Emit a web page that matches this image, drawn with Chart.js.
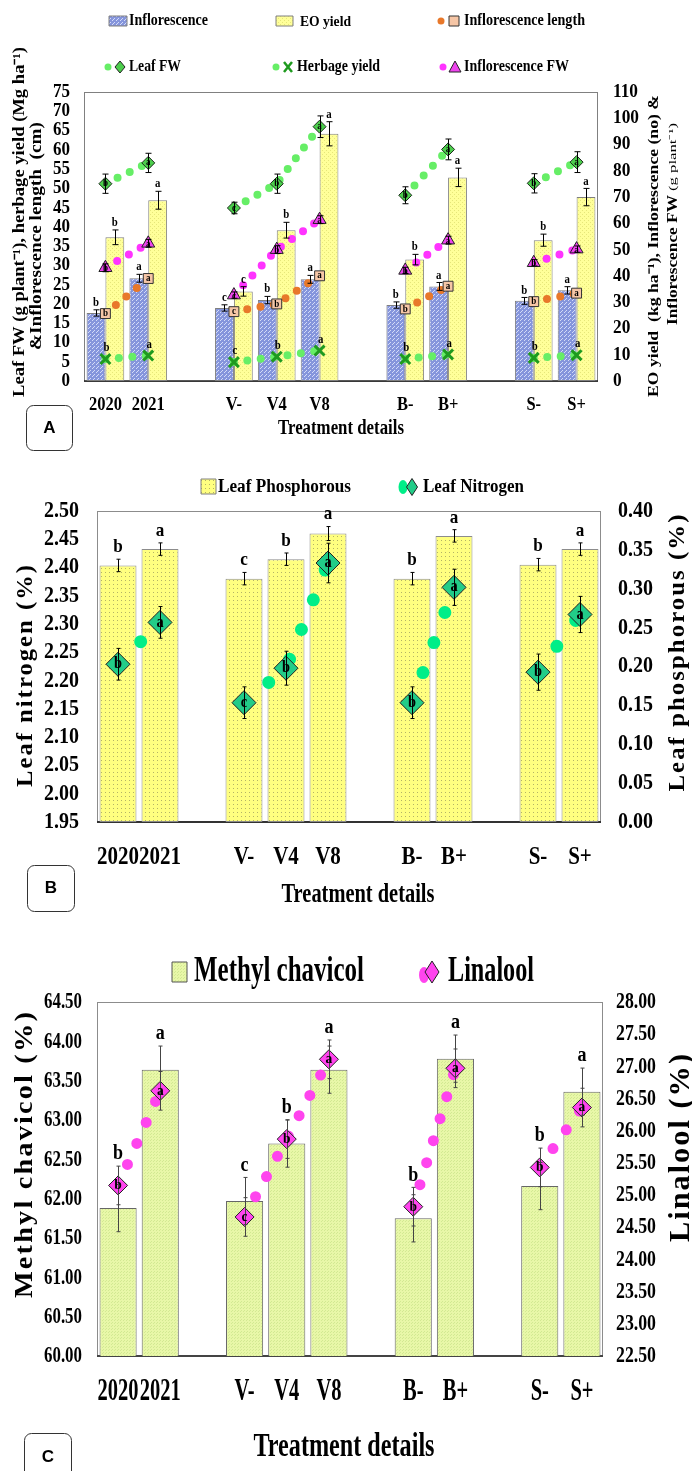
<!DOCTYPE html>
<html>
<head>
<meta charset="utf-8">
<title>Treatment details</title>
<script src="https://cdn.jsdelivr.net/npm/chart.js"></script>
<style>
  body { margin: 0; background: #fff; }
  #wrap { position: relative; width: 692px; height: 1471px; overflow: hidden; }
  canvas { position: absolute; left: 0; }
</style>
</head>
<body>
<div id="wrap">
  <canvas id="chartA" width="692" height="455" style="top:0px"></canvas>
  <canvas id="chartB" width="692" height="460" style="top:455px"></canvas>
  <canvas id="chartC" width="692" height="556" style="top:915px"></canvas>
</div>
<script>
// categories ('' = gap between treatment groups)
var categories = ['2020', '2021', '', 'V-', 'V4', 'V8', '', 'B-', 'B+', '', 'S-', 'S+'];
var letters = ['b', 'a', '', 'c', 'b', 'a', '', 'b', 'a', '', 'b', 'a'];

// panel A
var inflorescenceNo = [25.9, 39.1, null, 27.8, 30.8, 38.7, null, 28.9, 36.0, null, 30.5, 34.5];
var inflorescenceNoErr = [1.2, 1.5, null, 1.2, 1.4, 1.5, null, 1.2, 1.5, null, 1.3, 1.4];
var eoYield = [54.7, 68.8, null, 34.1, 57.4, 94.1, null, 46.2, 77.5, null, 53.6, 70.0];
var eoYieldErr = [2.8, 3.4, null, 1.8, 3.0, 4.6, null, 2.0, 3.5, null, 2.3, 3.3];
var inflorescenceLength = [17.5, 26.6, null, 18.0, 20.0, 27.3, null, 18.7, 24.6, null, 20.6, 22.8];
var leafFW = [51.2, 56.6, null, 44.9, 51.2, 66.0, null, 48.2, 60.1, null, 51.3, 56.8];
var leafFWErr = [2.5, 2.5, null, 1.5, 2.5, 2.8, null, 2.2, 2.7, null, 2.5, 2.7];
var herbageYield = [5.7, 6.6, null, 4.9, 6.3, 7.9, null, 5.7, 6.9, null, 6.0, 6.7];
var inflorescenceFW = [43.1, 52.4, null, 32.7, 50.0, 61.4, null, 42.1, 53.6, null, 45.0, 50.2];
var inflorescenceFWErr = [1.5, 1.5, null, 1.2, 1.5, 1.5, null, 1.2, 1.5, null, 1.2, 1.2];

// panel B
var leafPhosphorus = [0.330, 0.351, null, 0.313, 0.338, 0.371, null, 0.313, 0.368, null, 0.331, 0.351];
var leafPhosphorusErr = [0.008, 0.008, null, 0.008, 0.008, 0.009, null, 0.008, 0.008, null, 0.008, 0.008];
var leafNitrogen = [2.229, 2.303, null, 2.161, 2.222, 2.408, null, 2.161, 2.365, null, 2.215, 2.317];
var leafNitrogenErr = [0.028, 0.028, null, 0.028, 0.03, 0.035, null, 0.028, 0.032, null, 0.032, 0.032];

// panel C
var methylChavicol = [61.88, 63.64, null, 61.97, 62.70, 63.64, null, 61.75, 63.78, null, 62.16, 63.36];
var methylChavicolErr = [0.3, 0.3, null, 0.3, 0.3, 0.3, null, 0.3, 0.3, null, 0.3, 0.3];
var linalool = [25.15, 26.62, null, 24.66, 25.87, 27.11, null, 24.82, 26.97, null, 25.43, 26.36];
var linaloolErr = [0.3, 0.3, null, 0.3, 0.3, 0.3, null, 0.3, 0.3, null, 0.3, 0.3];

var FONT = '"Liberation Serif", "Times New Roman", serif';
var SANS = '"Liberation Sans", Arial, sans-serif';

function txt(ctx, s, x, y, o) {
  ctx.save();
  ctx.font = (o.weight || 'bold') + ' ' + o.size + 'px ' + (o.family || FONT);
  if (o.ls) ctx.letterSpacing = o.ls + 'px';
  var sx = o.sx || 1;
  if (o.w) sx = o.w / ctx.measureText(s).width;
  ctx.translate(x, y);
  if (o.rot) ctx.rotate(o.rot);
  ctx.scale(sx, 1);
  ctx.fillStyle = o.color || '#000';
  ctx.textAlign = o.align || 'center';
  ctx.textBaseline = 'middle';
  ctx.fillText(s, 0, 0);
  ctx.restore();
}

function sxFor(ctx, s, size, w) {
  ctx.save();
  ctx.font = 'bold ' + size + 'px ' + FONT;
  var r = w / ctx.measureText(s).width;
  ctx.restore();
  return r;
}

function pattern(bg, fg, step, pts) {
  var c = document.createElement('canvas');
  c.width = c.height = step;
  var g = c.getContext('2d');
  g.fillStyle = bg;
  g.fillRect(0, 0, step, step);
  g.fillStyle = fg;
  pts.forEach(function(p) { g.fillRect(p[0], p[1], 1, 1); });
  return g.createPattern(c, 'repeat');
}

var bluePat = pattern('#8595dc', '#d4dbf8', 4, [[0, 0], [2, 2], [1, 3]]);
var yellowPatA = pattern('#ffff99', '#e6e67a', 4, [[0, 0], [2, 2]]);
var yellowPatB = pattern('#ffff80', '#b3b366', 4, [[1, 1]]);
var greenPatC = pattern('#e8f7a8', '#d2e992', 3, [[0, 0], [1, 2]]);

function poly(ctx, pts, fill, stroke, lw) {
  ctx.save();
  ctx.beginPath();
  pts.forEach(function(p, i) { if (i) ctx.lineTo(p[0], p[1]); else ctx.moveTo(p[0], p[1]); });
  ctx.closePath();
  if (fill) { ctx.fillStyle = fill; ctx.fill(); }
  if (stroke) { ctx.strokeStyle = stroke; ctx.lineWidth = lw || 1; ctx.stroke(); }
  ctx.restore();
}
function dot(ctx, x, y, rx, ry, color) {
  ctx.save();
  ctx.fillStyle = color;
  ctx.beginPath();
  ctx.ellipse(x, y, rx, ry, 0, 0, Math.PI * 2);
  ctx.fill();
  ctx.restore();
}
function diamond(ctx, x, y, hw, hh, fill, stroke) {
  poly(ctx, [[x, y - hh], [x + hw, y], [x, y + hh], [x - hw, y]], fill, stroke);
}
function box(ctx, x, y, w, h, fill, stroke) {
  poly(ctx, [[x, y], [x + w, y], [x + w, y + h], [x, y + h]], fill, stroke);
}
function roundBox(ctx, x, y, w, h, r) {
  ctx.save();
  ctx.strokeStyle = '#333';
  ctx.lineWidth = 1;
  ctx.beginPath();
  ctx.roundRect(x, y, w, h, r);
  ctx.stroke();
  ctx.restore();
}

function frame(chart, side, bottom, bw) {
  var a = chart.chartArea, ctx = chart.ctx;
  ctx.save();
  ctx.strokeStyle = side;
  ctx.lineWidth = 1;
  ctx.strokeRect(a.left + 0.5, a.top + 0.5, a.right - a.left - 1, a.bottom - a.top);
  ctx.strokeStyle = bottom;
  ctx.lineWidth = bw;
  ctx.beginPath();
  ctx.moveTo(a.left, a.bottom);
  ctx.lineTo(a.right, a.bottom);
  ctx.stroke();
  ctx.restore();
}

function errBars(chart, di, errs, color, cap) {
  var ctx = chart.ctx, meta = chart.getDatasetMeta(di), ds = chart.data.datasets[di];
  var sc = chart.scales[ds.yAxisID];
  ctx.save();
  ctx.strokeStyle = color;
  ctx.lineWidth = 1;
  meta.data.forEach(function(el, j) {
    var v = ds.data[j], e = errs[j];
    if (v == null || e == null) return;
    var x = Math.round(el.x) + 0.5, y1 = sc.getPixelForValue(v + e), y2 = sc.getPixelForValue(v - e);
    ctx.beginPath();
    ctx.moveTo(x, y1); ctx.lineTo(x, y2);
    ctx.moveTo(x - cap, y1); ctx.lineTo(x + cap, y1);
    ctx.moveTo(x - cap, y2); ctx.lineTo(x + cap, y2);
    ctx.stroke();
  });
  ctx.restore();
}

// significance letters: centred on the marker, or above the error bar
function marks(chart, di, errs, size, dy, dx) {
  var meta = chart.getDatasetMeta(di), ds = chart.data.datasets[di];
  var sc = chart.scales[ds.yAxisID];
  meta.data.forEach(function(el, j) {
    var v = ds.data[j];
    if (v == null || !letters[j]) return;
    var top = sc.getPixelForValue(v + (errs ? errs[j] : 0));
    txt(chart.ctx, letters[j], el.x + (dx || 0), top + dy, { size: size, sx: 0.9 });
  });
}

function yTicks(chart, id, x, align, size, sx, dec) {
  var sc = chart.scales[id];
  sc.ticks.forEach(function(t) {
    txt(chart.ctx, t.value.toFixed(dec), x, sc.getPixelForValue(t.value), { size: size, sx: sx, align: align });
  });
}
function xTicks(chart, y, size, sx) {
  var sc = chart.scales.x;
  categories.forEach(function(l, i) {
    if (l) txt(chart.ctx, l, sc.getPixelForValue(i), y, { size: size, sx: sx });
  });
}

function fixed(w) { return function(s) { s.width = w; }; }
function fixedH(h) { return function(s) { s.height = h; }; }

function baseOptions(pad, xh, lw, rw, left, right) {
  return {
    responsive: false,
    animation: false,
    events: [],
    layout: { padding: { top: pad, left: 0, right: 0, bottom: 0 } },
    plugins: { legend: { display: false }, tooltip: { enabled: false } },
    scales: {
      x: { grid: { display: false }, border: { display: false }, ticks: { display: false }, afterFit: fixedH(xh) },
      yL: Object.assign({ position: 'left', grid: { display: false }, border: { display: false }, afterFit: fixed(lw) }, left),
      yR: Object.assign({ position: 'right', grid: { display: false }, border: { display: false }, afterFit: fixed(rw) }, right)
    }
  };
}

var UP = -Math.PI / 2;

// ---------------- Panel A ----------------
var decorA = {
  id: 'decorA',
  beforeDatasetsDraw: function(chart) { frame(chart, '#808080', '#222', 1.5); },
  afterDatasetsDraw: function(chart) {
    errBars(chart, 5, eoYieldErr, '#000', 3);
    errBars(chart, 4, inflorescenceNoErr, '#000', 3);
    errBars(chart, 0, leafFWErr, '#000', 3);
    errBars(chart, 3, inflorescenceFWErr, '#000', 3);
    marks(chart, 5, eoYieldErr, 12, -7);
    marks(chart, 4, inflorescenceNoErr, 12, -7);
    marks(chart, 0, null, 10, 0);
    marks(chart, 3, null, 10, 1);
    marks(chart, 2, null, 10, 0);
    marks(chart, 1, null, 12, -11, 1);
  },
  afterDraw: function(chart) {
    var ctx = chart.ctx;
    yTicks(chart, 'yL', 70, 'right', 19, sxFor(ctx, '75', 19, 17), 0);
    yTicks(chart, 'yR', 613, 'left', 19, sxFor(ctx, '110', 19, 25), 0);
    xTicks(chart, 405, 18, sxFor(ctx, '2020', 18, 33));
    txt(ctx, 'Treatment details', 341, 429, { size: 21, w: 126 });
    txt(ctx, 'Leaf FW (g plant\u207B\u00B9), herbage yield (Mg ha\u207B\u00B9)', 20, 222, { size: 16, w: 350, rot: UP });
    txt(ctx, '&Inflorescence length  (cm)', 37, 236, { size: 16, w: 228, rot: UP });
    txt(ctx, 'EO yield  (kg ha\u207B\u00B9), Inflorescence (no) &', 654, 246, { size: 15, w: 302, rot: UP });
    txt(ctx, 'Inflorescence FW', 673, 260, { size: 15, w: 130, rot: UP });
    txt(ctx, '(g plant\u207B\u00B9)', 673, 157, { size: 11, w: 68, weight: 'normal', rot: UP });
    // legend
    box(ctx, 109, 16, 18, 10, bluePat, '#808080');
    txt(ctx, 'Inflorescence', 129, 21, { size: 16, w: 79, align: 'left' });
    box(ctx, 276, 16, 17, 10, yellowPatA, '#808080');
    txt(ctx, 'EO yield', 300, 22, { size: 14, w: 51, align: 'left' });
    dot(ctx, 441, 21, 3.5, 3.5, '#e8782a');
    box(ctx, 449, 16, 10, 10, '#f6c6a6', '#333');
    txt(ctx, 'Inflorescence length', 464, 21, { size: 16, w: 121, align: 'left' });
    dot(ctx, 108, 67, 3.5, 3.5, '#66ee66');
    diamond(ctx, 120, 67, 5, 6, '#4ccd4c', '#222');
    txt(ctx, 'Leaf FW', 129, 67, { size: 16, w: 52, align: 'left' });
    dot(ctx, 276, 67, 3.5, 3.5, '#66ee66');
    ctx.save();
    ctx.strokeStyle = '#1f9a1f'; ctx.lineWidth = 2.5;
    ctx.beginPath(); ctx.moveTo(284, 62); ctx.lineTo(292, 72); ctx.moveTo(292, 62); ctx.lineTo(284, 72); ctx.stroke();
    ctx.restore();
    txt(ctx, 'Herbage yield', 297, 67, { size: 16, w: 83, align: 'left' });
    dot(ctx, 443, 67, 3.5, 3.5, '#ff33ff');
    poly(ctx, [[455, 61], [461, 72], [449, 72]], '#ee44ee', '#222');
    txt(ctx, 'Inflorescence FW', 464, 67, { size: 16, w: 105, align: 'left' });
    roundBox(ctx, 26.5, 405.5, 46, 45, 7);
    txt(ctx, 'A', 49.5, 428, { size: 17, family: SANS });
  }
};

new Chart(document.getElementById('chartA'), {
  type: 'bar',
  data: {
    labels: categories,
    datasets: [
      { type: 'line', label: 'Leaf FW', data: leafFW, yAxisID: 'yL', order: 0,
        borderColor: '#66ee66', borderWidth: 8, borderDash: [0, 13.5], borderCapStyle: 'round',
        pointStyle: 'rectRot', pointRadius: 6.5, pointBackgroundColor: '#4ccd4c', pointBorderColor: '#1a2a1a', pointBorderWidth: 1 },
      { type: 'line', label: 'Herbage yield', data: herbageYield, yAxisID: 'yL', order: 0,
        borderColor: '#66ee66', borderWidth: 8, borderDash: [0, 13.5], borderCapStyle: 'round',
        pointStyle: 'crossRot', pointRadius: 7, pointBorderColor: '#1f9a1f', pointBorderWidth: 3 },
      { type: 'line', label: 'Inflorescence length', data: inflorescenceLength, yAxisID: 'yL', order: 0,
        borderColor: '#e8782a', borderWidth: 8, borderDash: [0, 13.5], borderCapStyle: 'round',
        pointStyle: 'rect', pointRadius: 7, pointBackgroundColor: '#f6c6a6', pointBorderColor: '#333', pointBorderWidth: 1 },
      { type: 'line', label: 'Inflorescence FW', data: inflorescenceFW, yAxisID: 'yR', order: 0,
        borderColor: '#ff33ff', borderWidth: 8, borderDash: [0, 13.5], borderCapStyle: 'round',
        pointStyle: 'triangle', pointRadius: 7.5, pointBackgroundColor: '#ee44ee', pointBorderColor: '#222', pointBorderWidth: 1 },
      { label: 'Inflorescence', data: inflorescenceNo, yAxisID: 'yR', order: 1,
        backgroundColor: bluePat, borderColor: '#808080', borderWidth: 1, borderSkipped: false,
        categoryPercentage: 0.88, barPercentage: 1 },
      { label: 'EO yield', data: eoYield, yAxisID: 'yR', order: 1,
        backgroundColor: yellowPatA, borderColor: '#808080', borderWidth: 1, borderSkipped: false,
        categoryPercentage: 0.88, barPercentage: 1 }
    ]
  },
  options: baseOptions(92, 74, 84, 94,
    { min: 0, max: 75, ticks: { stepSize: 5, display: false } },
    { min: 0, max: 110, ticks: { stepSize: 10, display: false } }),
  plugins: [decorA]
});

// ---------------- Panel B ----------------
var OB = 455;
var decorB = {
  id: 'decorB',
  beforeDatasetsDraw: function(chart) { frame(chart, '#8c8c8c', '#333', 2); },
  afterDatasetsDraw: function(chart) {
    errBars(chart, 1, leafPhosphorusErr, '#000', 2);
    errBars(chart, 0, leafNitrogenErr, '#000', 2);
    marks(chart, 1, leafPhosphorusErr, 19, -12);
    marks(chart, 0, null, 16, 0);
  },
  afterDraw: function(chart) {
    var ctx = chart.ctx;
    yTicks(chart, 'yL', 79, 'right', 23, sxFor(ctx, '2.50', 23, 35), 2);
    yTicks(chart, 'yR', 618, 'left', 23, sxFor(ctx, '0.40', 23, 35), 2);
    xTicks(chart, 858 - OB, 25, sxFor(ctx, '2020', 25, 42));
    txt(ctx, 'Treatment details', 358, 895 - OB, { size: 27, w: 153 });
    txt(ctx, 'Leaf nitrogen (%)', 26, 675 - OB, { size: 24, w: 224, ls: 2, rot: UP });
    txt(ctx, 'Leaf phosphorous (%)', 678, 652 - OB, { size: 24, w: 279, ls: 2, rot: UP });
    box(ctx, 201, 479 - OB, 15, 15, yellowPatB, '#808080');
    txt(ctx, 'Leaf Phosphorous', 218, 487 - OB, { size: 18, w: 133, align: 'left' });
    dot(ctx, 403, 487 - OB, 4.5, 7, '#00ee88');
    diamond(ctx, 412, 487 - OB, 5.5, 8.5, '#22cc88', '#222');
    txt(ctx, 'Leaf Nitrogen', 423, 487 - OB, { size: 18, w: 101, align: 'left' });
    roundBox(ctx, 27.5, 865.5 - OB, 47, 46, 7);
    txt(ctx, 'B', 51, 888 - OB, { size: 17, family: SANS });
  }
};

new Chart(document.getElementById('chartB'), {
  type: 'bar',
  data: {
    labels: categories,
    datasets: [
      { type: 'line', label: 'Leaf Nitrogen', data: leafNitrogen, yAxisID: 'yL', order: 0,
        borderColor: '#00ee88', borderWidth: 13, borderDash: [0, 32], borderCapStyle: 'round',
        pointStyle: 'rectRot', pointRadius: 12, pointBackgroundColor: '#22cc88', pointBorderColor: '#222', pointBorderWidth: 1 },
      { label: 'Leaf Phosphorous', data: leafPhosphorus, yAxisID: 'yR', order: 1,
        backgroundColor: yellowPatB, borderColor: '#8c8c8c', borderWidth: 1, borderSkipped: false,
        categoryPercentage: 0.88, barPercentage: 1 }
    ]
  },
  options: baseOptions(511 - OB, 460 - (822 - OB), 97, 91,
    { min: 1.95, max: 2.5, ticks: { stepSize: 0.05, display: false, maxTicksLimit: 100 } },
    { min: 0, max: 0.4, ticks: { stepSize: 0.05, display: false, maxTicksLimit: 100 } }),
  plugins: [decorB]
});

// ---------------- Panel C ----------------
var OC = 915;
var decorC = {
  id: 'decorC',
  beforeDatasetsDraw: function(chart) { frame(chart, '#8c8c8c', '#444', 2); },
  afterDatasetsDraw: function(chart) {
    errBars(chart, 1, methylChavicolErr, '#444', 2);
    errBars(chart, 0, linaloolErr, '#444', 2);
    // bar letters sit above both error bars
    var meta = chart.getDatasetMeta(1), sL = chart.scales.yL, sR = chart.scales.yR;
    meta.data.forEach(function(el, j) {
      if (methylChavicol[j] == null) return;
      var t = Math.min(sL.getPixelForValue(methylChavicol[j] + methylChavicolErr[j]),
                       sR.getPixelForValue(linalool[j] + linaloolErr[j]));
      txt(chart.ctx, letters[j], el.x, t - 12, { size: 20, sx: 0.9 });
    });
    marks(chart, 0, null, 15, 0);
  },
  afterDraw: function(chart) {
    var ctx = chart.ctx;
    yTicks(chart, 'yL', 82, 'right', 24, sxFor(ctx, '64.50', 24, 38), 2);
    yTicks(chart, 'yR', 616, 'left', 24, sxFor(ctx, '28.00', 24, 40), 2);
    xTicks(chart, 1392 - OC, 32, sxFor(ctx, '2020', 32, 41));
    txt(ctx, 'Treatment details', 344, 1447 - OC, { size: 34, w: 181 });
    txt(ctx, 'Methyl chavicol (%)', 25, 1154 - OC, { size: 26, w: 288, ls: 2, rot: UP });
    txt(ctx, 'Linalool (%)', 681, 1147 - OC, { size: 30, w: 190, ls: 2, rot: UP });
    box(ctx, 172, 962 - OC, 15, 20, greenPatC, '#555');
    txt(ctx, 'Methyl chavicol', 194, 972 - OC, { size: 36, w: 170, align: 'left' });
    dot(ctx, 424, 975 - OC, 5, 8, '#ff44ee');
    diamond(ctx, 432, 972 - OC, 7, 11, '#ff44ee', '#222');
    txt(ctx, 'Linalool', 448, 972 - OC, { size: 36, w: 86, align: 'left' });
    roundBox(ctx, 24.5, 1433.5 - OC, 47, 50, 7);
    txt(ctx, 'C', 48, 1457 - OC, { size: 17, family: SANS });
  }
};

new Chart(document.getElementById('chartC'), {
  type: 'bar',
  data: {
    labels: categories,
    datasets: [
      { type: 'line', label: 'Linalool', data: linalool, yAxisID: 'yR', order: 0,
        borderColor: '#ff44ee', borderWidth: 11, borderDash: [0, 23], borderCapStyle: 'round',
        pointStyle: 'rectRot', pointRadius: 9.5, pointBackgroundColor: '#ff44ee', pointBorderColor: '#222', pointBorderWidth: 1 },
      { label: 'Methyl chavicol', data: methylChavicol, yAxisID: 'yL', order: 1,
        backgroundColor: greenPatC, borderColor: '#666', borderWidth: 1, borderSkipped: false,
        categoryPercentage: 0.88, barPercentage: 1 }
    ]
  },
  options: baseOptions(1002 - OC, 556 - (1356 - OC), 97, 89,
    { min: 60, max: 64.5, ticks: { stepSize: 0.5, display: false, maxTicksLimit: 100 } },
    { min: 22.5, max: 28, ticks: { stepSize: 0.5, display: false, maxTicksLimit: 100 } }),
  plugins: [decorC]
});
</script>
</body>
</html>
